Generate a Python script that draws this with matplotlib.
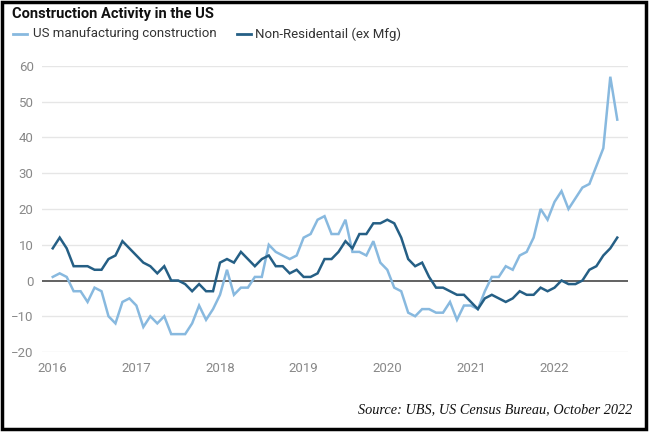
import matplotlib.pyplot as plt
from matplotlib.patches import Rectangle

# monthly readings, Jan 2016 .. Oct 2022
years = ['2016', '2017', '2018', '2019', '2020', '2021', '2022']

us_mfg = [1, 2, 1, -3, -3, -6, -2, -3, -10, -12, -6, -5,
          -7, -13, -10, -12, -10, -15, -15, -15, -12, -7, -11, -8,
          -4, 3, -4, -2, -2, 1, 1, 10, 8, 7, 6, 7,
          12, 13, 17, 18, 13, 13, 17, 8, 8, 7, 11, 5,
          3, -2, -3, -9, -10, -8, -8, -9, -9, -6, -11, -7,
          -7, -8, -3, 1, 1, 4, 3, 7, 8, 12, 20, 17,
          22, 25, 20, 23, 26, 27, 32, 37, 57, 45]

non_res = [9, 12, 9, 4, 4, 4, 3, 3, 6, 7, 11, 9,
           7, 5, 4, 2, 4, 0, 0, -1, -3, -1, -3, -3,
           5, 6, 5, 8, 6, 4, 6, 7, 4, 4, 2, 3,
           1, 1, 2, 6, 6, 8, 11, 9, 13, 13, 16, 16,
           17, 16, 12, 6, 4, 5, 1, -2, -2, -3, -4, -4,
           -6, -8, -5, -4, -5, -6, -5, -3, -4, -4, -2, -3,
           -2, 0, -1, -1, 0, 3, 4, 7, 9, 12]

months = list(range(len(us_mfg)))

light = '#88b9df'
dark = '#255f85'

fig = plt.figure(figsize=(6.52, 4.32), dpi=100)
ax = fig.add_axes([42 / 652, 1 - 352 / 432, (628 - 42) / 652, (352 - 66) / 432])

ax.plot(months, us_mfg, color=light, lw=1.8, solid_joinstyle='miter', zorder=3)
ax.plot(months, non_res, color=dark, lw=1.8, solid_joinstyle='miter', zorder=4)

ax.set_xlim(-1.54, 82.54)
ax.set_ylim(-20, 60)
ax.set_yticks(range(-20, 61, 10))
ax.set_yticklabels(['\u221220', '\u221210', '0', '10', '20', '30', '40', '50', '60'])
ax.set_xticks(range(0, 73, 12))
ax.set_xticklabels(years)

for v in range(-20, 61, 10):
    if v != 0:
        ax.axhline(v, color='#e6e6e6', lw=1, zorder=1)
ax.axhline(0, color='#555555', lw=1.3, zorder=2)

for s in ax.spines.values():
    s.set_visible(False)
ax.tick_params(length=0, colors='#888888', labelsize=9.5)
ax.tick_params(axis='y', pad=6)
ax.tick_params(axis='x', pad=7)
for lab in ax.get_xticklabels() + ax.get_yticklabels():
    lab.set_fontfamily('Roboto')

# title and legend
fig.text(12 / 652, 1 - 14 / 432, 'Construction Activity in the US', fontsize=10.5,
         fontweight='bold', family='Roboto',
         va='center', ha='left', color='#111111')
ly = 1 - 34 / 432
fig.add_artist(plt.Line2D([13 / 652, 27 / 652], [ly, ly], color=light, lw=2))
fig.text(33 / 652, ly, 'US manufacturing construction', fontsize=9.5, family='Roboto',
         va='center', ha='left', color='#333333')
fig.add_artist(plt.Line2D([237 / 652, 251 / 652], [ly, ly], color=dark, lw=2))
fig.text(255 / 652, ly, 'Non-Residentail (ex Mfg)', fontsize=9.5, family='Roboto',
         va='center', ha='left', color='#333333')

# source
fig.text(632 / 652, 1 - 410 / 432, 'Source: UBS, US Census Bureau, October 2022',
         fontsize=10.3, style='italic', family='Liberation Serif',
         va='center', ha='right', color='#111111')

# black frame
fig.add_artist(Rectangle((2 / 652, 3 / 432), 644 / 652, 427 / 432, transform=fig.transFigure,
                         fill=False, edgecolor='black', lw=2.5))

fig.savefig('out.png', dpi=100)
